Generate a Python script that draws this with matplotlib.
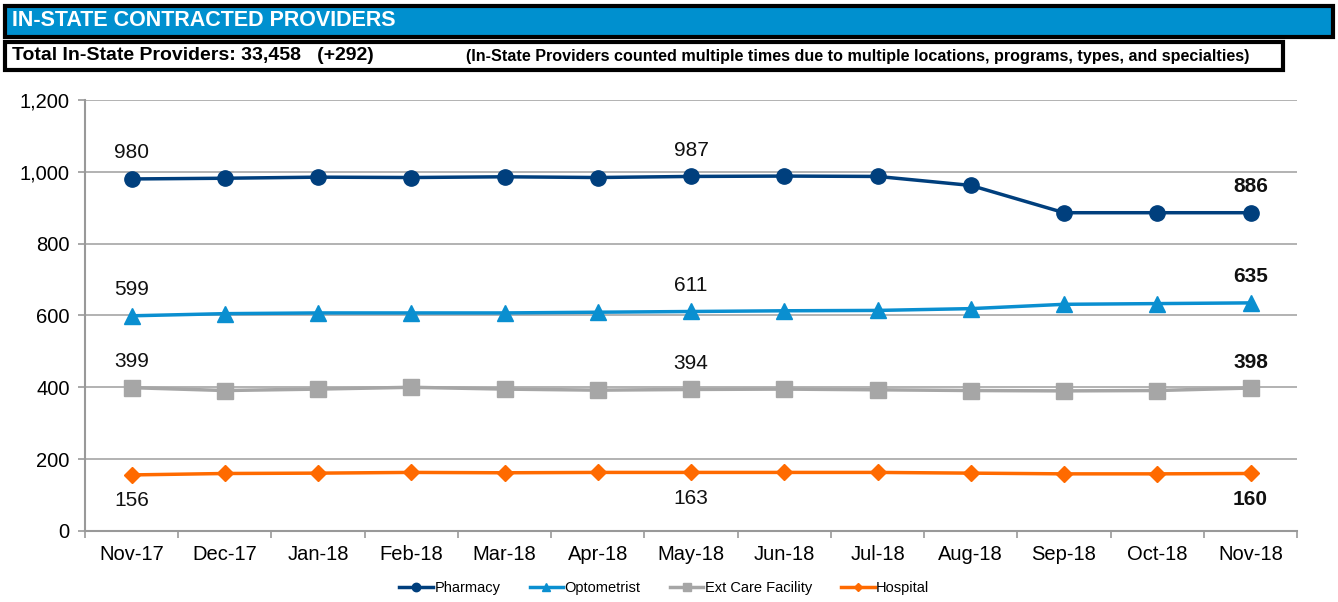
import numpy as np
import matplotlib.pyplot as plt
from matplotlib.patches import Rectangle

plt.rcParams['font.family'] = ['Liberation Sans', 'DejaVu Sans']

months = ['Nov-17', 'Dec-17', 'Jan-18', 'Feb-18', 'Mar-18', 'Apr-18', 'May-18',
          'Jun-18', 'Jul-18', 'Aug-18', 'Sep-18', 'Oct-18', 'Nov-18']
pharmacy = [980, 982, 985, 984, 986, 984, 987, 988, 987, 962, 886, 886, 886]
optometrist = [599, 605, 607, 607, 607, 609, 611, 613, 614, 619, 631, 633, 635]
ext_care = [399, 391, 395, 400, 395, 392, 394, 395, 393, 391, 390, 391, 398]
hospital = [156, 160, 161, 163, 162, 163, 163, 163, 163, 161, 159, 159, 160]
label_idx = [0, 6, 12]

fig = plt.figure(figsize=(13.38, 6.02), dpi=100)
ax = fig.add_axes([0.0635, 0.118, 0.906, 0.716])
x = np.arange(len(months))

series = [
    ('Pharmacy', pharmacy, '#003F7D', 'o', 11, 1),
    ('Optometrist', optometrist, '#0A8FD0', '^', 11, 1),
    ('Ext Care Facility', ext_care, '#A6A6A6', 's', 11, 1),
    ('Hospital', hospital, '#FF6A00', 'D', 8, -1),
]
for name, vals, col, mk, ms, side in series:
    ax.plot(x, vals, color=col, lw=2.5, marker=mk, ms=ms, label=name, zorder=3)
    for i in label_idx:
        ax.annotate(f'{vals[i]:,}', (x[i], vals[i]), xytext=(0, 26 * side),
                    textcoords='offset pixels', ha='center', va='center',
                    fontsize=15, fontweight='bold' if i == 12 else 'normal',
                    color='#111111')

ax.set_xlim(-0.5, 12.5)
ax.set_ylim(0, 1200)
ax.set_yticks(range(0, 1201, 200))
ax.set_yticklabels([f'{v:,}' for v in range(0, 1201, 200)], fontsize=14.5)
ax.set_xticks(x)
ax.set_xticklabels(months, fontsize=14.5)
ax.set_xticks(np.arange(-0.5, 13, 1), minor=True)
ax.tick_params(axis='x', which='major', length=0, pad=10)
ax.tick_params(axis='x', which='minor', length=5, color='#999999', width=1.2)
ax.tick_params(axis='y', length=5, color='#999999', width=1.2, pad=6)
ax.grid(axis='y', color='#A6A6A6', lw=1.2)
ax.set_axisbelow(True)
for s in ['top', 'right']:
    ax.spines[s].set_visible(False)
for s in ['left', 'bottom']:
    ax.spines[s].set_color('#999999')
    ax.spines[s].set_linewidth(1.5)

ax.legend(loc='center', bbox_to_anchor=(0.478, -0.132), ncol=4, frameon=False,
          fontsize=10.5, markerscale=0.55, handlelength=2.3, handletextpad=0.1,
          columnspacing=2.0)

# header boxes
W, H = 1338, 602
fig.patches.append(Rectangle((5 / W, 1 - 37 / H), 1328 / W, 31 / H, transform=fig.transFigure,
                             facecolor='#0090CF', edgecolor='black', lw=3))
fig.text(12 / W, 1 - 21 / H, 'IN-STATE CONTRACTED PROVIDERS', color='white',
         fontsize=15.5, fontweight='bold', va='center', ha='left')
fig.patches.append(Rectangle((5 / W, 1 - 70 / H), 1278 / W, 28 / H, transform=fig.transFigure,
                             facecolor='white', edgecolor='black', lw=3))
fig.text(12 / W, 1 - 56 / H, 'Total In-State Providers: 33,458   (+292)', color='black',
         fontsize=14, fontweight='bold', va='center', ha='left')
fig.text(466 / W, 1 - 56 / H,
         '(In-State Providers counted multiple times due to multiple locations, programs, types, and specialties)',
         color='black', fontsize=11.6, fontweight='bold', va='center', ha='left')

fig.savefig('out.png', dpi=100)
